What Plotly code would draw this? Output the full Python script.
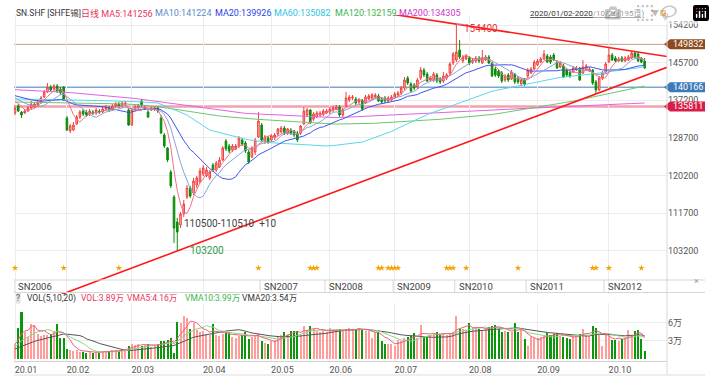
import plotly.graph_objects as go
import pandas as pd

W, H = 715, 385

# ---------------- data ----------------
month_labels = ["20.01", "20.02", "20.03", "20.04", "20.05", "20.06", "20.07", "20.08", "20.09", "20.10"]
month_start_idx = [0, 16, 36, 58, 79, 97, 117, 140, 161, 183]

opens = [
    134340, 135920, 134560, 134340, 134790, 135470, 135690, 136140, 136820, 137950,
    139080, 140210, 139760, 140430, 139760, 140210, 133210, 130280, 130500, 131860,
    133440, 134790, 134560, 134110, 134560, 134340, 134790, 134560, 135240, 135470,
    135020, 135920, 136370, 135920, 136370, 135020, 131630, 135020, 135470, 137050,
    135240, 134560, 135020, 135240, 135470, 133210, 129370, 126440, 121020, 115380,
    109740, 109060, 111540, 115380, 117410, 116280, 118090, 118770, 120570, 120120,
    119670, 122600, 121470, 122150, 123730, 128020, 126890, 125990, 126210, 126890,
    128250, 127570, 125540, 124410, 125540, 128920, 131630, 127790, 128700, 128250,
    128700, 129600, 130050, 130950, 129820, 130500, 130280, 129820, 129820, 131860,
    133890, 135020, 132980, 133440, 133890, 134110, 134340, 134560, 135020, 135240,
    135690, 133890, 135920, 137270, 137720, 137500, 136820, 137270, 136600, 137500,
    137720, 137950, 138180, 137500, 137720, 137050, 137270, 137950, 138400, 138850,
    139980, 142240, 140880, 140660, 140210, 142240, 144040, 143140, 141790, 141790,
    142920, 142010, 141560, 142240, 143370, 145620, 146300, 148560, 146080, 146530,
    146750, 145850, 146080, 146750, 145620, 146300, 146980, 145620, 144270, 143820,
    143370, 141790, 142920, 142010, 143140, 142240, 140880, 141790, 142690, 143370,
    144270, 145170, 145850, 146530, 147200, 146980, 147430, 145850, 144720, 144950,
    144040, 143590, 143590, 144040, 144500, 143370, 144040, 143820, 144040, 141340,
    139530, 142240, 143590, 145850, 147430, 146750, 146080, 146750, 146080, 146300,
    146750, 147880, 147660, 146530, 146080,
]
highs = [
    136140, 136370, 134790, 135240, 135920, 137050, 136820, 137270, 138180, 139530,
    141110, 140660, 140880, 140880, 140210, 140430, 133660, 131860, 132310, 133890,
    135020, 135240, 135020, 135240, 135020, 135470, 135240, 135690, 136140, 135920,
    136370, 136820, 136820, 137050, 137050, 135470, 135470, 136140, 136370, 137500,
    136140, 135020, 135920, 135920, 135920, 133890, 129820, 126660, 121470, 115830,
    110640, 111990, 114700, 118090, 117860, 119670, 120120, 121930, 122600, 122150,
    121470, 123050, 123510, 124410, 126890, 128470, 127340, 127340, 127340, 129150,
    128700, 128020, 125990, 126890, 128700, 134560, 132080, 129370, 129150, 129600,
    129820, 130950, 131400, 131400, 130950, 130950, 130500, 130280, 131630, 135690,
    135470, 135240, 134560, 134790, 134790, 135240, 135240, 135690, 135920, 136140,
    136140, 135470, 139080, 138400, 138400, 137950, 137720, 137500, 138400, 138630,
    138850, 138850, 138630, 137950, 138180, 138180, 138400, 139080, 139300, 140430,
    142460, 142690, 141340, 141110, 142240, 144720, 144500, 143590, 142690, 143590,
    143370, 142460, 143590, 143370, 145850, 148110, 154400, 150820, 147430, 147660,
    147200, 146750, 147200, 147200, 148560, 147430, 147430, 145850, 144720, 144270,
    143820, 143140, 143370, 144040, 143370, 142690, 142240, 142240, 144500, 144720,
    146300, 146530, 146980, 148560, 147660, 147430, 147880, 146300, 146080, 145400,
    144500, 144040, 144950, 144950, 144720, 146300, 145400, 144720, 144270, 141790,
    142690, 143820, 145850, 149230, 147880, 147200, 146980, 147200, 147200, 147430,
    148330, 148110, 148110, 146980, 146750,
]
lows = [
    133890, 134560, 133210, 134110, 134560, 135240, 135470, 135920, 136370, 137720,
    138850, 139300, 139530, 138850, 138400, 137050, 130280, 129820, 130280, 131630,
    132980, 133660, 133440, 133660, 133890, 133890, 134110, 134340, 134790, 134560,
    134790, 135470, 135470, 135690, 135920, 131400, 131400, 134790, 135020, 135690,
    135020, 133210, 134790, 134790, 134340, 129600, 126440, 123280, 117410, 105000,
    103200, 108380, 110870, 114930, 115150, 115830, 117410, 118540, 120120, 119890,
    119220, 121020, 121020, 121930, 123510, 125760, 125310, 125540, 125990, 126440,
    126890, 125310, 122830, 124180, 124860, 128700, 127790, 127340, 127340, 127790,
    128250, 129150, 129820, 129370, 129370, 129370, 128920, 127790, 129370, 131630,
    133440, 131860, 132530, 133210, 133440, 133660, 134110, 134110, 134560, 135020,
    133440, 133440, 135690, 136820, 137270, 136140, 136370, 134790, 136370, 137270,
    137270, 137720, 136820, 136370, 136600, 136600, 137050, 137500, 137950, 138400,
    139530, 140660, 139080, 139530, 139760, 141790, 142460, 141340, 141340, 141340,
    141110, 140880, 141110, 141790, 142920, 145170, 145850, 146530, 145620, 146300,
    145170, 145400, 145620, 145620, 145400, 146080, 145400, 142460, 142460, 142240,
    141110, 141340, 141340, 141790, 140880, 140880, 140430, 140430, 142240, 143140,
    144040, 144950, 145620, 146300, 145620, 145400, 146080, 144270, 144500, 142240,
    142460, 142240, 143370, 143820, 141560, 143140, 143820, 143590, 140660, 138630,
    139300, 141790, 143140, 145620, 146080, 145850, 145850, 145850, 145850, 146080,
    146530, 146750, 145850, 145620, 144270,
]
closes = [
    135470, 134790, 133890, 134790, 135470, 136370, 136370, 136820, 137720, 139080,
    140210, 139530, 140430, 139300, 138850, 137500, 130500, 131400, 131630, 133440,
    134560, 134110, 133890, 134790, 134340, 135020, 134560, 135240, 135690, 135020,
    135920, 136370, 135920, 136600, 136600, 131630, 135020, 135690, 135920, 136140,
    135690, 133440, 135470, 135470, 134790, 129820, 126890, 123730, 117860, 108380,
    107480, 111540, 113800, 117410, 115610, 118990, 119670, 121250, 121930, 121470,
    121020, 121470, 123050, 123730, 126440, 126210, 125760, 126890, 126890, 128700,
    127340, 125760, 123280, 126440, 128250, 132530, 128250, 128920, 127790, 129150,
    129370, 130730, 130950, 129820, 130730, 129820, 129370, 128250, 131400, 134790,
    135020, 132080, 134110, 134340, 134340, 134790, 134790, 135240, 135470, 135690,
    133890, 135020, 137720, 137950, 137950, 136600, 137270, 135240, 137950, 138180,
    138400, 138400, 137050, 136820, 137050, 137720, 137950, 138630, 138850, 139980,
    141790, 141110, 139300, 139980, 141790, 144040, 142920, 141560, 142240, 143140,
    141560, 141340, 142690, 142920, 145400, 147660, 148110, 146980, 146980, 147200,
    145620, 146300, 146750, 146080, 146750, 146980, 145620, 142690, 142920, 142690,
    141560, 142690, 141790, 143590, 141340, 141340, 141790, 140880, 144040, 144270,
    145850, 146080, 146530, 147660, 145850, 145850, 146300, 144500, 145620, 142460,
    142920, 142690, 144500, 144500, 141790, 144720, 144950, 144270, 141110, 139530,
    142240, 143370, 145400, 147430, 146300, 146080, 146530, 146080, 146750, 146980,
    147880, 146980, 146080, 145850, 144500,
]
volumes = [
    25000, 52000, 78000, 45000, 37000, 58000, 56000, 42000, 38000, 40000,
    39000, 42000, 46000, 58000, 35000, 34000, 16000, 14000, 13000, 15000,
    12000, 11000, 10000, 12000, 10000, 11000, 10000, 12000, 13000, 11000,
    14000, 15000, 13000, 16000, 17000, 22000, 25000, 23000, 24000, 22000,
    23000, 25000, 20000, 21000, 24000, 30000, 30000, 32000, 35000, 9000,
    62000, 60000, 72000, 68000, 50000, 60000, 48000, 45000, 46000, 42000,
    40000, 58000, 40000, 38000, 42000, 43000, 44000, 36000, 35000, 38000,
    40000, 44000, 33000, 36000, 38000, 42000, 30000, 26000, 25000, 30000,
    31000, 38000, 40000, 45000, 42000, 46000, 46000, 46000, 40000, 55000,
    48000, 55000, 50000, 46000, 44000, 48000, 45000, 51000, 47000, 48000,
    50000, 46000, 50000, 52000, 48000, 48000, 52000, 48000, 47000, 46000,
    35000, 45000, 44000, 30000, 24000, 25000, 24000, 22000, 32000, 30000,
    35000, 36000, 38000, 43000, 35000, 57000, 37000, 37000, 40000, 42000,
    45000, 40000, 42000, 40000, 42000, 45000, 72000, 50000, 50000, 48000,
    59000, 52000, 50000, 50000, 48000, 50000, 53000, 55000, 57000, 50000,
    45000, 46000, 44000, 44000, 59000, 45000, 50000, 33000, 22000, 36000,
    35000, 34000, 36000, 38000, 43000, 40000, 42000, 43000, 38000, 37000,
    35000, 33000, 38000, 40000, 42000, 50000, 40000, 38000, 55000, 52000,
    40000, 22000, 40000, 38000, 32000, 32000, 30000, 33000, 35000, 48000,
    38000, 47000, 48000, 33000, 13000,
]
# the 19 sessions before 2020-01-02 (needed for MA5/10/20 and VMA warm-up)
pre_closes = [138900, 138600, 139200, 139000, 138400, 138800, 139300, 138700, 138200, 138500,
              138900, 138300, 137900, 138400, 138600, 138100, 137600, 137200, 136800]
pre_volumes = [11000, 12000, 10000, 13000, 12000, 14000, 11000, 12000, 15000, 13000,
               14000, 16000, 15000, 17000, 18000, 20000, 22000, 25000, 30000]

# long moving averages
ma60 = ([137500, 137480, 137470, 137450, 137430, 137420, 137400, 137390, 137370, 137350,
         137340, 137320, 137300, 137290, 137270]
        + [137260, 137250, 137240, 137230, 137220, 137210, 137200, 137190, 137180, 137170,
           137160, 137150, 137140, 137130, 137120, 137110, 137100, 137090, 137080, 137070, 137050]
        + [137000, 136950, 136900, 136850, 136800, 136750, 136700, 136650, 136600]
        + [136300, 136000, 135700, 135400, 135100, 134800, 134500, 134200, 133890]
        + [133400, 132920, 132440, 131950, 131470, 130990, 130500]
        + [130300, 130100, 129900, 129700, 129500, 129300, 129100, 128900, 128700]
        + [128570, 128440, 128310, 128180, 128050, 127920, 127790]
        + [127730, 127680, 127620, 127570, 127510, 127450, 127400, 127340, 127290, 127230, 127180, 127120]
        + [127090, 127070, 127040, 127020, 126990, 126960, 126940, 126910, 126890]
        + [126980, 127070, 127160, 127250, 127340, 127430, 127520, 127610, 127700, 127790]
        + [128040, 128300, 128550, 128800, 129060, 129310, 129570, 129820]
        + [130180, 130550, 130910, 131270, 131630, 132000, 132360, 132720, 133080, 133440]
        + [133710, 133980, 134250, 134520, 134790, 135060, 135330, 135600, 135870, 136140]
        + [136410, 136670, 136940, 137210, 137470, 137740, 138010, 138280, 138540, 138810, 139080]
        + [139240, 139400, 139550, 139710, 139870, 140030, 140190, 140340, 140500, 140660]
        + [140820, 140980, 141130, 141290, 141450, 141610, 141770, 141920, 142080, 142240]
        + [142310, 142380, 142440, 142510, 142580, 142650, 142720, 142780, 142850, 142920]
        + [143030, 143140, 143260, 143370, 143480, 143590, 143700, 143820, 143930, 144040]
        + [144130, 144210, 144300, 144380, 144470, 144550, 144640, 144720])
ma120 = ([136820, 136800, 136790, 136770, 136760, 136750, 136730, 136720, 136700, 136690,
          136670, 136660, 136640, 136630, 136610, 136600]
         + [136590, 136580, 136570, 136560, 136540, 136530, 136520, 136510, 136500, 136490,
            136480, 136470, 136460, 136450, 136440, 136420, 136410, 136400, 136390, 136380, 136370]
         + [136290, 136220, 136140, 136070, 135990, 135920, 135840, 135770, 135690]
         + [135570, 135450, 135330, 135210, 135090, 134970, 134850, 134730, 134610, 134490,
            134370, 134250, 134130, 134010, 133890]
         + [133810, 133740, 133660, 133590, 133510, 133440, 133360, 133290, 133210]
         + [133160, 133110, 133060, 133010, 132950, 132900, 132850, 132800, 132750, 132700,
            132650, 132590, 132540, 132490, 132440, 132390, 132340, 132290, 132240, 132180, 132130, 132080]
         + [132040, 132010, 131970, 131930, 131900, 131860]
         + [131850, 131840, 131840, 131840, 131840, 131840, 131850, 131850, 131860]
         + [131890, 131930, 131960, 132000, 132030, 132070, 132100, 132140, 132180, 132210,
            132250, 132280, 132320, 132350, 132390, 132420, 132460, 132490, 132530]
         + [132600, 132660, 132730, 132790, 132860, 132920, 132990, 133050, 133110, 133180,
            133240, 133310, 133370, 133440, 133500, 133570, 133630, 133700, 133760, 133830, 133890]
         + [134000, 134110, 134230, 134340, 134450, 134570, 134680, 134790, 134900, 135020,
            135130, 135240, 135350, 135470, 135580, 135690, 135800, 135920, 136030, 136140]
         + [136290, 136430, 136580, 136720, 136870, 137010, 137160, 137310, 137450, 137600,
            137740, 137890, 138030, 138180]
         + [138340, 138500, 138660, 138820, 138980, 139140, 139310, 139470, 139630, 139790,
            139950, 140110, 140270, 140430])
ma200 = ([139600, 139570, 139530, 139500, 139460, 139430, 139390, 139360, 139320, 139290,
          139250, 139220, 139180, 139150, 139110, 139080]
         + [139010, 138950, 138880, 138820, 138760, 138690, 138630, 138560, 138500, 138430,
            138370, 138300, 138240, 138170, 138110, 138040, 137980, 137910, 137850, 137780, 137720]
         + [137620, 137520, 137420, 137320, 137220, 137120, 137020, 136920, 136820]
         + [136720, 136610, 136510, 136410, 136300, 136200, 136100, 135990, 135890, 135790,
            135680, 135580, 135480, 135370, 135270, 135170, 135060, 134960, 134860, 134750,
            134650, 134550, 134440, 134340]
         + [134300, 134260, 134220, 134180, 134140, 134100, 134060, 134020, 133980, 133940,
            133900, 133860, 133820, 133780, 133740, 133700, 133660, 133620, 133580, 133540,
            133500, 133460, 133420, 133380, 133340, 133290, 133250, 133210]
         + [133250, 133280, 133320, 133350, 133390, 133420, 133460, 133500, 133530, 133570,
            133600, 133640, 133670, 133710, 133740, 133780, 133810, 133850, 133890, 133920,
            133960, 133990, 134030, 134060, 134100, 134130, 134170, 134200, 134240, 134280,
            134310, 134350, 134380, 134420, 134450, 134490, 134520, 134560]
         + [134600, 134630, 134670, 134710, 134740, 134780, 134820, 134850, 134890, 134930,
            134960, 135000, 135040, 135070, 135110, 135150, 135180, 135220, 135250, 135290,
            135330, 135360, 135400, 135440, 135470, 135510, 135550, 135580, 135620, 135650, 135690]
         + [135720, 135750, 135790, 135820, 135850, 135880, 135920, 135950, 135980, 136010,
            136050, 136080, 136110, 136140, 136180, 136210, 136240, 136280, 136310, 136340,
            136370, 136410, 136440, 136470, 136500, 136540, 136570, 136600])

price_ticks = [103200, 111700, 120200, 128700, 137200, 145700, 154200]
ref_levels = [149832, 140166, 135811]
contracts = ["SN2006", "SN2007", "SN2008", "SN2009", "SN2010", "SN2011", "SN2012"]
contract_start_idx = [0, 76, 96, 117, 136, 158, 182]
star_idx = [0, 15, 32, 75, 91, 92, 93, 112, 113, 115, 116, 117, 118, 133, 134, 135, 139, 155, 178, 179, 183, 193]
upper_trend = [(136, 154400), (183, 149100)]
lower_trend = [(50, 103200), (179, 138630)]
peak_idx, peak_val = 136, 154400
low_idx, low_val = 50, 103200

N = len(closes)
for arr in (opens, highs, lows, volumes, ma60, ma120, ma200):
    assert len(arr) == N, len(arr)
idx = list(range(N))

# ---------------- derived ----------------
cs = pd.Series(pre_closes + closes, dtype=float)
vs = pd.Series(pre_volumes + volumes, dtype=float)
P = len(pre_closes)
ma5 = cs.rolling(5).mean().iloc[P:].tolist()
ma10 = cs.rolling(10).mean().iloc[P:].tolist()
ma20 = cs.rolling(20).mean().iloc[P:].tolist()
vma5 = vs.rolling(5).mean().iloc[P:].tolist()
vma10 = vs.rolling(10).mean().iloc[P:].tolist()
vma20 = vs.rolling(20, min_periods=1).mean().iloc[P:].tolist()

# ---------------- geometry helpers (pixel -> paper) ----------------
def px(x):
    return x / W

def py(y):
    return 1 - y / H

X0, X1 = -0.31, 200.9          # index range across plot area
MAIN_TOP_PX, MAIN_BOT_PX = 15, 294
Y_TOP, Y_BOT = 156457, 93487    # price range across main panel
VOL_RANGE = [-3830, 92830]

def price_at_px(y):
    return Y_BOT + (MAIN_BOT_PX - y) / (MAIN_BOT_PX - MAIN_TOP_PX) * (Y_TOP - Y_BOT)

UP_LINE, UP_FILL = "#F0403C", "#FFB8B8"
DN_COLOR = "#0B8E0B"
VOL_UP, VOL_DN = "#FF9C9C", "#0B960B"
FONT = "Roboto, Noto Sans CJK SC, sans-serif"

fig = go.Figure()

fig.add_trace(go.Candlestick(
    x=idx, open=opens, high=highs, low=lows, close=closes,
    increasing=dict(line=dict(color=UP_LINE, width=1), fillcolor=UP_FILL),
    decreasing=dict(line=dict(color=DN_COLOR, width=1), fillcolor=DN_COLOR),
    whiskerwidth=0, showlegend=False, hoverinfo="skip", xaxis="x", yaxis="y"))

ma_styles = [
    (ma200, "#E064E0"), (ma120, "#6CC86C"), (ma60, "#5CD6EA"),
    (ma20, "#3F52EE"), (ma10, "#86A6D6"), (ma5, "#F0708A"),
]
for vals, col in ma_styles:
    fig.add_trace(go.Scatter(x=idx, y=vals, mode="lines", line=dict(color=col, width=1),
                             showlegend=False, hoverinfo="skip", xaxis="x", yaxis="y"))


def trend(pts):
    (xa, ya), (xb, yb) = pts
    k = (yb - ya) / (xb - xa)
    return [X0, X1], [ya + k * (X0 - xa), ya + k * (X1 - xa)]


for pts in (upper_trend, lower_trend):
    tx, ty = trend(pts)
    fig.add_trace(go.Scatter(x=tx, y=ty, mode="lines", line=dict(color="#FF1A1A", width=1.6),
                             showlegend=False, hoverinfo="skip", xaxis="x", yaxis="y"))

# star event markers (row near the bottom of the price panel)
star_y = price_at_px(268)
fig.add_trace(go.Scatter(x=star_idx, y=[star_y] * len(star_idx), mode="markers",
                         marker=dict(symbol="star", size=5, color="#F5A300", line=dict(width=0)),
                         showlegend=False, hoverinfo="skip", cliponaxis=False, xaxis="x", yaxis="y"))

# volume
vol_colors = [VOL_UP if c >= o else VOL_DN for o, c in zip(opens, closes)]
fig.add_trace(go.Bar(x=idx, y=volumes, marker=dict(color=vol_colors, line=dict(width=0)),
                     width=0.62, showlegend=False, hoverinfo="skip", xaxis="x2", yaxis="y2"))
for vals, col in [(vma20, "#555555"), (vma10, "#86D886"), (vma5, "#F0607A")]:
    fig.add_trace(go.Scatter(x=idx, y=vals, mode="lines", line=dict(color=col, width=1),
                             showlegend=False, hoverinfo="skip", xaxis="x2", yaxis="y2"))

shapes = []
annotations = []

# reference horizontal lines + right-hand tags
ref_styles = [("#C49A86", 1, "#8E4A1E"), ("#7FA7CF", 1.6, "#3C7AB8"), ("#F5A0B0", 2.6, "#D81E48")]
px_to_price = (Y_TOP - Y_BOT) / (MAIN_BOT_PX - MAIN_TOP_PX)
for lvl, (lc, lw, tagc) in zip(ref_levels, ref_styles):
    shapes.append(dict(type="line", xref="paper", yref="y", x0=px(14), x1=px(667), y0=lvl, y1=lvl,
                       line=dict(color=lc, width=lw), layer="below"))
    dy = 5.0 * px_to_price
    shapes.append(dict(type="path", xref="paper", yref="y",
                       path=f"M {px(664)},{lvl} L {px(670)},{lvl + dy} L {px(705)},{lvl + dy} "
                            f"L {px(705)},{lvl - dy} L {px(670)},{lvl - dy} Z",
                       fillcolor=tagc, line=dict(width=0), layer="above"))
    annotations.append(dict(xref="paper", yref="y", x=px(671), y=lvl, xanchor="left", yanchor="middle",
                            text=str(lvl), showarrow=False, font=dict(size=9, color="white", family=FONT)))

# right separator and bottom border
shapes.append(dict(type="line", xref="paper", yref="paper", x0=px(667), x1=px(667), y0=py(375), y1=py(15),
                   line=dict(color="#D9D9D9", width=1)))
shapes.append(dict(type="line", xref="paper", yref="paper", x0=px(14), x1=px(705), y0=py(375), y1=py(375),
                   line=dict(color="#DDDDDD", width=1)))

# contract row
shapes.append(dict(type="line", xref="paper", yref="paper", x0=px(14), x1=px(705), y0=py(280), y1=py(280),
                   line=dict(color="#D6D6D6", width=1)))
shapes.append(dict(type="line", xref="paper", yref="paper", x0=px(14), x1=px(705), y0=py(292.5), y1=py(292.5),
                   line=dict(color="#D6D6D6", width=1)))
for name, si in zip(contracts, contract_start_idx):
    xs = max(si - 0.5, X0)
    shapes.append(dict(type="line", xref="x", yref="paper", x0=xs, x1=xs, y0=py(292.5), y1=py(280),
                       line=dict(color="#D6D6D6", width=1)))
    annotations.append(dict(xref="x", yref="paper", x=xs, y=py(286.3), xanchor="left", yanchor="middle",
                            xshift=2, text=name, showarrow=False, font=dict(size=9.5, color="#444", family=FONT)))
annotations.append(dict(xref="paper", yref="paper", x=px(701), y=py(288), text="×", showarrow=False,
                        font=dict(size=9, color="#999", family=FONT)))

# price annotations
shapes.append(dict(type="line", xref="x", yref="y", x0=peak_idx, x1=peak_idx + 1.8, y0=peak_val, y1=peak_val,
                   line=dict(color="#8FB2D8", width=1)))
annotations.append(dict(xref="x", yref="y", x=peak_idx, y=peak_val, xanchor="left", yanchor="middle",
                        xshift=6, yshift=-4, text=str(peak_val), showarrow=False,
                        font=dict(size=10, color="#E8363C", family=FONT)))
annotations.append(dict(xref="x", yref="y", x=low_idx, y=low_val, xanchor="left", yanchor="middle",
                        xshift=11, text=str(low_val), showarrow=False,
                        font=dict(size=10, color="#2E9A45", family=FONT)))
annotations.append(dict(xref="x", yref="y", x=low_idx + 1, y=109500, xanchor="left", yanchor="middle",
                        xshift=1, text="110500-110510  +10", showarrow=False,
                        font=dict(size=10, color="#444", family=FONT)))

# header
header = [
    (14, "SN.SHF [SHFE锡]", "#333333", 8.5),
    (79, "日线 MA5:141256", "#E8365A", 9),
    (153, "MA10:141224", "#5C8CCB", 9),
    (213, "MA20:139926", "#2B3FEA", 9),
    (272, "MA60:135082", "#2EC6DC", 9),
    (333, "MA120:132159", "#3DB54A", 9),
    (397, "MA200:134305", "#CC33CC", 9),
    (528, "<u>2020/01/02-2020/10/26(195日)</u>", "#333333", 8),
    (649, "▼", "#777777", 8),
]
for x, t, c, s in header:
    annotations.append(dict(xref="paper", yref="paper", x=px(x), y=py(13.5), xanchor="left", yanchor="middle",
                            text=t, showarrow=False, font=dict(size=s, color=c, family=FONT)))
shapes.append(dict(type="rect", xref="paper", yref="paper", x0=px(660), x1=px(666), y0=py(16), y1=py(10),
                   fillcolor="#F5A623", line=dict(width=0)))
shapes.append(dict(type="rect", xref="paper", yref="paper", x0=px(662), x1=px(664), y0=py(14), y1=py(12),
                   fillcolor="#FFFFFF", line=dict(width=0)))

# volume legend
annotations.append(dict(xref="paper", yref="paper", x=px(15), y=py(298), xanchor="left", yanchor="middle",
                        text="?", showarrow=False, bgcolor="#E2E2E2", borderpad=0,
                        font=dict(size=8.5, color="#555", family=FONT)))
vol_header = [
    (25, "VOL(5,10,20)", "#333333"),
    (79, "VOL:3.89万", "#E8365A"),
    (125, "VMA5:4.16万", "#E8365A"),
    (183, "VMA10:3.99万", "#3DB54A"),
    (240, "VMA20:3.54万", "#333333"),
]
for x, t, c in vol_header:
    annotations.append(dict(xref="paper", yref="paper", x=px(x), y=py(298), xanchor="left", yanchor="middle",
                            text=t, showarrow=False, font=dict(size=8.5, color=c, family=FONT)))

grid = "#ECECEC"
fig.update_layout(
    width=W, height=H, margin=dict(l=0, r=0, t=0, b=0),
    paper_bgcolor="white", plot_bgcolor="white",
    font=dict(family=FONT, size=9, color="#555"),
    showlegend=False, bargap=0,
    xaxis=dict(domain=[px(14), px(667)], range=[X0, X1], anchor="y",
               tickvals=month_start_idx, showticklabels=False, ticks="",
               showgrid=True, gridcolor=grid, zeroline=False, showline=False,
               rangeslider=dict(visible=False), fixedrange=True),
    yaxis=dict(domain=[py(MAIN_BOT_PX), py(MAIN_TOP_PX)], range=[Y_BOT, Y_TOP], anchor="x", side="right",
               tickvals=price_ticks, ticktext=[str(v) for v in price_ticks],
               tickfont=dict(size=9, color="#555"), ticks="", ticklen=0,
               showgrid=True, gridcolor=grid, zeroline=False, showline=False, fixedrange=True),
    xaxis2=dict(domain=[px(14), px(667)], range=[X0, X1], anchor="y2",
                tickvals=month_start_idx, ticktext=month_labels, ticklabelshift=11,
                tickfont=dict(size=9, color="#555"), ticks="",
                showgrid=True, gridcolor=grid, zeroline=False,
                showline=True, linecolor="#D0D0D0", linewidth=1, fixedrange=True),
    yaxis2=dict(domain=[py(361), py(303)], range=VOL_RANGE, anchor="x2", side="right",
                tickvals=[30000, 60000], ticktext=["3万", "6万"],
                tickfont=dict(size=9, color="#555"), ticks="",
                showgrid=True, gridcolor=grid, zeroline=False, showline=False, fixedrange=True),
    shapes=shapes, annotations=annotations,
)

# the page body has a default 8px margin; remove it so the figure sits at the window origin
fig.write_html("out.html", post_script="document.body.style.margin='0px';")
